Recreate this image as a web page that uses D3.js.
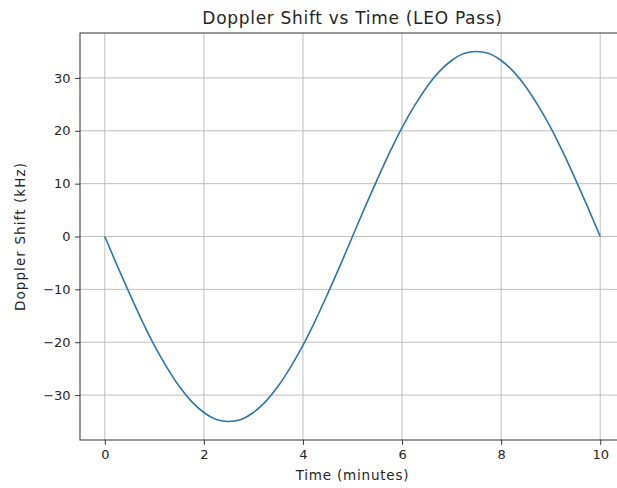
<!DOCTYPE html>
<html><head><meta charset="utf-8">
<script src="https://cdn.jsdelivr.net/npm/d3@7"></script>
<style>body{margin:0;background:#fff}svg{display:block}text{font-family:"DejaVu Sans",sans-serif;fill:#262626}</style>
</head><body><svg id="c" width="617" height="488"></svg>
<script>
const times = [0,0.25,0.5,0.75,1,1.25,1.5,1.75,2,2.25,2.5,2.75,3,3.25,3.5,3.75,4,4.25,4.5,4.75,5,5.25,5.5,5.75,6,6.25,6.5,6.75,7,7.25,7.5,7.75,8,8.25,8.5,8.75,9,9.25,9.5,9.75,10];
const shift = [0,-5.5,-10.8,-15.9,-20.6,-24.7,-28.3,-31.2,-33.3,-34.6,-35,-34.6,-33.3,-31.2,-28.3,-24.7,-20.6,-15.9,-10.8,-5.5,0,5.5,10.8,15.9,20.6,24.7,28.3,31.2,33.3,34.6,35,34.6,33.3,31.2,28.3,24.7,20.6,15.9,10.8,5.5,0];
const xTicks = [0,2,4,6,8,10];
const yTicks = [-30,-20,-10,0,10,20,30];
const title = "Doppler Shift vs Time (LEO Pass)";
const xLabel = "Time (minutes)";
const yLabel = "Doppler Shift (kHz)";

const svg = d3.select("#c");
const L=80, R=625, T=33, B=440;
const x = d3.scaleLinear().domain([-0.5,10.5]).range([L,R]);
const y = d3.scaleLinear().domain([-38.5,38.5]).range([B,T]);

const g = svg.append("g");
g.selectAll(".gx").data(xTicks).join("line").attr("x1",d=>x(d)).attr("x2",d=>x(d)).attr("y1",T).attr("y2",B).attr("stroke","#b8b8b8").attr("stroke-width",0.9);
g.selectAll(".gy").data(yTicks).join("line").attr("y1",d=>y(d)).attr("y2",d=>y(d)).attr("x1",L).attr("x2",R).attr("stroke","#b8b8b8").attr("stroke-width",0.9);

const line = d3.line().x((d,i)=>x(times[i])).y(d=>y(d)).curve(d3.curveCatmullRom);
svg.append("path").datum(shift).attr("d",line).attr("fill","none").attr("stroke","#2f75ad").attr("stroke-width",1.6);

const xa = svg.append("g").attr("transform",`translate(0,${B})`).call(d3.axisBottom(x).tickValues(xTicks).tickFormat(d3.format("d")).tickSize(4.9).tickPadding(4.5));
const ya = svg.append("g").attr("transform",`translate(${L},0)`).call(d3.axisLeft(y).tickValues(yTicks).tickFormat(d=>d<0?"\u2212"+Math.abs(d):d).tickSize(4.9).tickPadding(4.5));
[xa,ya].forEach(a=>{a.select(".domain").remove();a.selectAll("text").style("font-size","13px").style("font-family","DejaVu Sans").attr("fill","#262626");a.selectAll("line").attr("stroke","#262626").attr("stroke-width",0.9);});
svg.append("rect").attr("x",L).attr("y",T).attr("width",R-L).attr("height",B-T).attr("fill","none").attr("stroke","#333").attr("stroke-width",1);

svg.append("text").attr("x",(L+R)/2).attr("y",24).attr("text-anchor","middle").style("font-size","17px").style("letter-spacing","0.7px").text(title);
svg.append("text").attr("x",(L+R)/2).attr("y",480).attr("text-anchor","middle").style("font-size","13.5px").style("letter-spacing","0.8px").text(xLabel);
svg.append("text").attr("transform",`translate(25,${(T+B)/2}) rotate(-90)`).attr("text-anchor","middle").style("font-size","13.5px").style("letter-spacing","1.1px").text(yLabel);
</script></body></html>
